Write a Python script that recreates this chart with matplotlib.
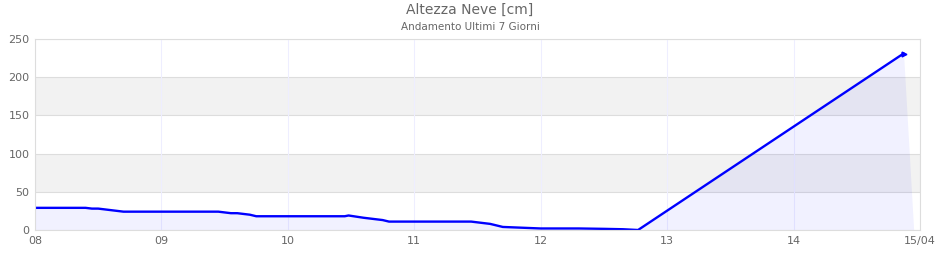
import matplotlib
matplotlib.use("Agg")
import matplotlib.pyplot as plt

# Data (time in days of April, snow height in cm)
times = [8.00, 8.10, 8.20, 8.30, 8.40, 8.45, 8.50, 8.55, 8.60, 8.65, 8.70,
         9.00, 9.30, 9.45, 9.50, 9.55, 9.60, 9.65, 9.70, 9.75,
         10.00, 10.20, 10.45, 10.48, 10.52, 10.56, 10.60, 10.65, 10.70, 10.75, 10.80,
         11.00, 11.20, 11.45, 11.50, 11.55, 11.60, 11.65, 11.70,
         12.00, 12.30, 12.50, 12.65, 12.77, 14.87]
heights = [29, 29, 29, 29, 29, 28, 28, 27, 26, 25, 24,
           24, 24, 24, 23, 22, 22, 21, 20, 18,
           18, 18, 18, 19, 18, 17, 16, 15, 14, 13, 11,
           11, 11, 11, 10, 9, 8, 6, 4,
           2, 2, 1.5, 1, 0, 231]
fill_end = 14.95
xtick_pos = [8, 9, 10, 11, 12, 13, 14, 15]
xtick_labels = ["08", "09", "10", "11", "12", "13", "14", "15/04"]
ytick_pos = [0, 50, 100, 150, 200, 250]

fig = plt.figure(figsize=(9.4, 2.6), dpi=100)
ax = fig.add_axes([35/940, 1-230/260, 885/940, 191/260])

# alternating bands
for lo, hi in [(50, 100), (150, 200)]:
    ax.axhspan(lo, hi, color="#f2f2f2", zorder=0, lw=0)

for y in ytick_pos:
    ax.axhline(y, color="#dddddd", lw=0.8, zorder=0.5)
for x in xtick_pos:
    ax.axvline(x, color="#eeeeff", lw=0.8, zorder=0.5)

fx = times + [fill_end]
fy = heights + [0]
ax.fill_between(fx, fy, 0, color="#0000ff", alpha=0.055, lw=0, zorder=1)
ax.plot(times, heights, color="#0000ff", lw=1.7, zorder=2)
ax.plot([times[-1]], [heights[-1]], marker=">", color="#0000ff", ms=3.5, zorder=3)

ax.set_xlim(8, 15)
ax.set_ylim(0, 250)
ax.set_xticks(xtick_pos)
ax.set_xticklabels(xtick_labels)
ax.set_yticks(ytick_pos)
ax.tick_params(length=0, labelsize=8, colors="#666666", pad=4)
for s in ax.spines.values():
    s.set_color("#dddddd")
    s.set_linewidth(0.8)

fig.text(0.5, 1-10/260, "Altezza Neve [cm]", ha="center", va="center",
         fontsize=10, color="#666666")
fig.text(0.5, 1-27/260, "Andamento Ultimi 7 Giorni", ha="center", va="center",
         fontsize=7.5, color="#666666")

fig.savefig("out.png", dpi=100)
